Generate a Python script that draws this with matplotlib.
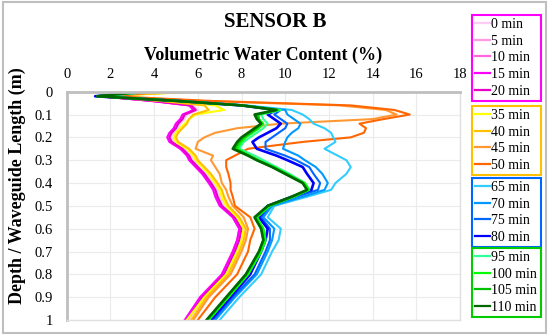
import matplotlib
matplotlib.use("Agg")
import matplotlib.pyplot as plt
from matplotlib.lines import Line2D
from matplotlib.patches import Rectangle
from matplotlib.ticker import FuncFormatter

plt.rcParams['font.family'] = ['Liberation Serif', 'DejaVu Serif']

# ---------------- data ----------------
depth = [0.0, 0.02, 0.04, 0.06, 0.08, 0.10, 0.12, 0.14, 0.16, 0.18, 0.20, 0.22, 0.25, 0.28,
         0.30, 0.33, 0.36, 0.40, 0.43, 0.46, 0.50, 0.55, 0.60, 0.65, 0.70, 0.80, 0.90, 1.00]

labels = ['0 min', '5 min', '10 min', '15 min', '20 min',
          '35 min', '40 min', '45 min', '50 min',
          '65 min', '70 min', '75 min', '80 min',
          '95 min', '100 min', '105 min', '110 min']

colors = ['#FFCCF5', '#FF99E6', '#FF66E0', '#FF00FF', '#E600C8',
          '#FFFF00', '#FFC000', '#FF9933', '#FF6600',
          '#33CCFF', '#0099FF', '#0066FF', '#0000FF',
          '#33FF99', '#00FF00', '#00C000', '#006600']

vwc_0 = [4.0, 1.6, 4.0, 5.8, 6.0, 5.5, 5.4, 5.2, 5.1, 4.9, 4.8, 4.9, 5.4, 5.7,
         5.8, 6.1, 6.4, 6.7, 6.9, 7.0, 7.2, 7.7, 8.0, 7.9, 7.8, 7.3, 6.3, 5.6]
vwc_5 = [4.0, 1.5, 3.9, 5.7, 5.9, 5.4, 5.3, 5.1, 5.0, 4.8, 4.7, 4.8, 5.3, 5.6,
         5.7, 6.0, 6.3, 6.6, 6.8, 6.9, 7.1, 7.6, 7.9, 7.9, 7.7, 7.2, 6.2, 5.5]
vwc_10 = [4.0, 1.5, 3.9, 5.6, 5.9, 5.4, 5.2, 5.0, 4.9, 4.8, 4.7, 4.8, 5.2, 5.6,
          5.7, 6.0, 6.3, 6.6, 6.8, 6.9, 7.1, 7.6, 7.9, 7.8, 7.6, 7.1, 6.2, 5.5]
vwc_15 = [4.0, 1.5, 3.8, 5.6, 5.8, 5.3, 5.2, 5.0, 4.9, 4.7, 4.6, 4.7, 5.2, 5.5,
          5.6, 5.9, 6.2, 6.5, 6.7, 6.8, 7.0, 7.6, 7.9, 7.8, 7.6, 7.1, 6.1, 5.4]
vwc_20 = [4.1, 1.5, 3.9, 5.7, 5.9, 5.4, 5.3, 5.1, 5.0, 4.8, 4.7, 4.8, 5.3, 5.6,
          5.7, 6.0, 6.3, 6.6, 6.8, 6.9, 7.1, 7.7, 8.0, 7.9, 7.7, 7.2, 6.2, 5.5]
vwc_35 = [5.8, 1.6, 4.5, 6.8, 7.2, 5.9, 5.6, 5.4, 5.2, 5.0, 4.9, 5.0, 5.5, 5.8,
          5.9, 6.2, 6.5, 6.8, 7.0, 7.1, 7.3, 7.8, 8.1, 8.0, 7.8, 7.3, 6.3, 5.5]
vwc_40 = [5.8, 1.5, 4.2, 6.3, 6.5, 5.8, 5.6, 5.5, 5.3, 5.1, 5.0, 5.1, 5.6, 5.9,
          6.0, 6.3, 6.6, 6.9, 7.1, 7.2, 7.4, 7.9, 8.2, 8.1, 7.9, 7.4, 6.4, 5.7]
vwc_45 = [4.2, 2.0, 6.0, 12.5, 14.6, 15.1, 14.0, 9.8, 7.8, 6.8, 6.3, 6.0, 5.9, 6.7,
          6.6, 6.8, 7.0, 7.1, 7.3, 7.4, 7.6, 8.1, 8.3, 8.2, 8.0, 7.5, 6.5, 5.8]
vwc_50 = [4.2, 2.2, 6.5, 13.0, 15.0, 15.7, 14.5, 13.4, 13.7, 13.6, 13.0, 10.8, 8.3, 7.7,
          7.3, 7.3, 7.4, 7.5, 7.5, 7.6, 7.7, 8.4, 8.6, 8.4, 8.3, 7.8, 6.8, 6.0]
vwc_65 = [3.8, 1.5, 5.0, 8.2, 10.3, 10.8, 11.1, 11.3, 11.8, 12.1, 12.2, 12.3, 11.8, 12.4,
          12.8, 13.0, 12.8, 12.3, 12.1, 11.0, 9.5, 9.2, 9.8, 9.7, 9.4, 8.9, 7.9, 7.0]
vwc_70 = [3.8, 1.4, 5.0, 8.1, 10.0, 10.1, 10.4, 10.7, 10.6, 10.3, 10.1, 10.0, 9.9, 10.6,
          10.9, 11.4, 11.7, 11.95, 11.8, 10.8, 9.4, 9.0, 9.5, 9.4, 9.2, 8.7, 7.7, 6.8]
vwc_75 = [3.7, 1.4, 5.0, 8.0, 9.8, 9.5, 9.8, 10.1, 10.0, 9.7, 9.4, 9.1, 9.1, 10.0,
          10.5, 11.1, 11.3, 11.6, 11.5, 10.5, 9.3, 8.9, 9.3, 9.3, 9.1, 8.6, 7.6, 6.7]
vwc_80 = [3.6, 1.3, 5.0, 8.0, 9.6, 9.2, 9.5, 9.8, 9.6, 9.2, 8.8, 8.5, 8.7, 9.6,
          10.1, 10.8, 11.0, 11.3, 11.2, 10.3, 9.2, 8.8, 9.2, 9.1, 8.9, 8.4, 7.5, 6.6]
vwc_95 = [4.0, 1.5, 5.1, 8.1, 9.8, 8.9, 9.0, 9.2, 9.0, 8.7, 8.4, 8.1, 7.9, 8.6,
          9.0, 9.6, 10.2, 10.9, 11.1, 10.4, 9.3, 8.7, 9.0, 9.1, 8.9, 8.3, 7.4, 6.5]
vwc_100 = [3.6, 1.4, 5.0, 8.0, 9.7, 8.8, 8.8, 9.0, 8.8, 8.5, 8.2, 8.0, 7.8, 8.4,
           8.8, 9.5, 10.1, 10.9, 11.1, 10.4, 9.3, 8.7, 9.0, 9.1, 8.9, 8.3, 7.4, 6.5]
vwc_105 = [3.5, 1.4, 5.0, 8.0, 9.6, 8.7, 8.8, 8.9, 8.7, 8.4, 8.1, 7.9, 7.7, 8.3,
           8.7, 9.4, 10.0, 10.8, 11.0, 10.3, 9.2, 8.6, 8.9, 9.0, 8.8, 8.2, 7.3, 6.4]
vwc_110 = [3.4, 1.4, 5.0, 8.0, 9.6, 8.6, 8.7, 8.9, 8.6, 8.3, 8.0, 7.8, 7.6, 8.3,
           8.7, 9.4, 10.0, 10.8, 11.0, 10.3, 9.2, 8.6, 8.9, 9.0, 8.8, 8.2, 7.3, 6.4]

series = [vwc_0, vwc_5, vwc_10, vwc_15, vwc_20, vwc_35, vwc_40, vwc_45, vwc_50,
          vwc_65, vwc_70, vwc_75, vwc_80, vwc_95, vwc_100, vwc_105, vwc_110]

groups = [(0, 5, '#FF00FF'), (5, 9, '#FFC000'), (9, 13, '#0066FF'), (13, 17, '#00CC00')]

x_ticks = [0, 2, 4, 6, 8, 10, 12, 14, 16, 18]
y_ticks = [0.0, 0.1, 0.2, 0.3, 0.4, 0.5, 0.6, 0.7, 0.8, 0.9, 1.0]

# ---------------- figure ----------------
W, H = 550, 336
fig = plt.figure(figsize=(W / 100, H / 100), dpi=100)

ax_l, ax_r, ax_t, ax_b = 66.7, 460, 91.7, 320
ax = fig.add_axes([ax_l / W, 1 - ax_b / H, (ax_r - ax_l) / W, (ax_b - ax_t) / H])

for vals, c in zip(series, colors):
    lw = 1.9 if c in ('#006600', '#0000FF') else 1.5
    ax.plot(vals, depth, color=c, lw=lw, solid_joinstyle='round')

ax.set_xlim(0, 18)
ax.set_ylim(1.0, 0.0)
ax.set_xticks(x_ticks)
ax.set_yticks(y_ticks)
ax.yaxis.set_major_formatter(FuncFormatter(lambda v, p: f"{v:g}"))
ax.xaxis.set_ticks_position('top')
ax.tick_params(axis='both', length=0, labelsize=10.5)
ax.tick_params(axis='x', pad=8)
ax.tick_params(axis='y', pad=10)
ax.grid(True, color='#EBEBEB', lw=0.8)
ax.set_axisbelow(True)
for side in ('top', 'left'):
    ax.spines[side].set_color('#BFBFBF')
    ax.spines[side].set_linewidth(2.0)
for side in ('right', 'bottom'):
    ax.spines[side].set_color('#E0E0E0')
    ax.spines[side].set_linewidth(1.0)

fig.text(275 / W, 1 - 21.7 / H, 'SENSOR B', ha='center', va='center',
         fontsize=15, fontweight='bold')
fig.text(263 / W, 1 - 55 / H, 'Volumetric Water Content (%)', ha='center', va='center',
         fontsize=13, fontweight='bold')
fig.text(17 / W, 1 - 185.5 / H, 'Depth / Waveguide Length (m)', ha='center', va='center',
         rotation=90, fontsize=13, fontweight='bold')

# legends
tops = [15, 106, 178, 248]
bots = [104, 175, 246, 320]
for (i0, i1, ec), t, b in zip(groups, tops, bots):
    hs = [Line2D([], [], color=colors[i], lw=1.6) for i in range(i0, i1)]
    leg = fig.legend(hs, labels[i0:i1], loc='upper left',
                     bbox_to_anchor=(472 / W, 1 - b / H, 69 / W, (b - t) / H),
                     bbox_transform=fig.transFigure, mode='expand',
                     frameon=True, fancybox=False, edgecolor=ec, framealpha=1,
                     fontsize=10, handlelength=1.1, handletextpad=0.1,
                     borderpad=0.2, labelspacing=0.27, borderaxespad=0)
    leg.get_frame().set_linewidth(1.5)

fig.patches.append(Rectangle((3 / W, 1 - 333 / H), 543 / W, 331 / H, transform=fig.transFigure,
                             fill=False, edgecolor='#BFBFBF', lw=1.5))

fig.savefig('out.png', dpi=100)
